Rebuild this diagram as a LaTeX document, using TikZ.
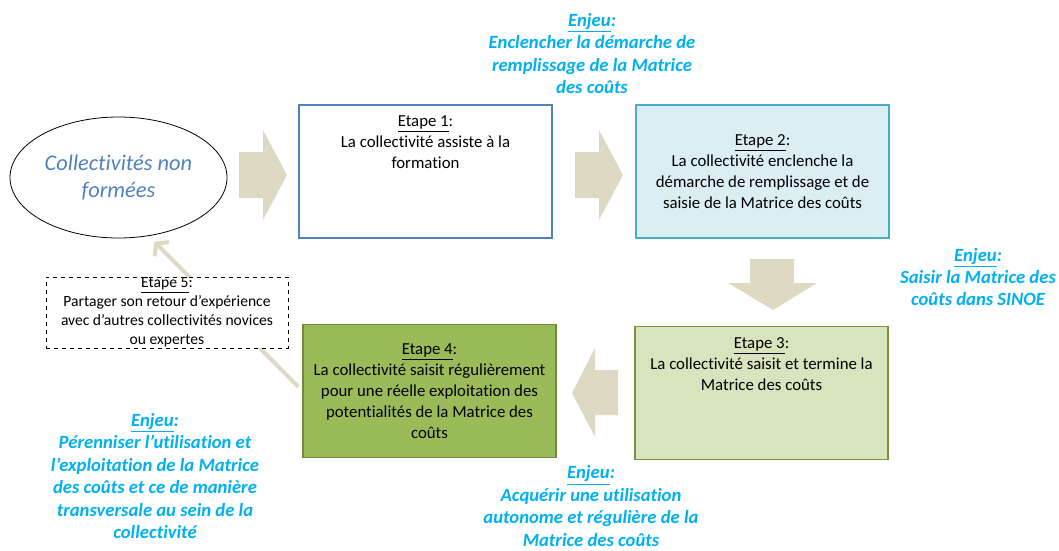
\documentclass[tikz,border=0pt]{standalone}
\usepackage{fontspec}
\setmainfont{Carlito}[Ligatures = {TeX, NoCommon}]
\usetikzlibrary{arrows.meta,shapes.geometric}
\definecolor{arrowbeige}{HTML}{DDD9C3}
\definecolor{enjeublue}{HTML}{00B0F0}
\definecolor{accentblue}{HTML}{4F81BD}
\definecolor{aquaedge}{HTML}{4BACC6}
\definecolor{aquafill}{HTML}{DBEEF4}
\definecolor{olivefill}{HTML}{D7E4BD}
\definecolor{oliveedge}{HTML}{77933C}
\definecolor{greenfill}{HTML}{9BBB59}
\definecolor{greenedge}{HTML}{71893F}
\newcommand{\etape}[1]{\underline{Etape #1}:}
\newcommand{\enjeu}{\underline{Enjeu}:}
\begin{document}
\begin{tikzpicture}[x = 0.75pt, y = -0.75pt,
  stepbox/.style = {draw, line width = 0.8pt, minimum width = 189.75pt, minimum height = 99.75pt,
    inner sep = 0pt, align = center, font = \fontsize{12.6}{15.8}\selectfont},
  steptext/.style = {align = center, inner sep = 0pt, font = \fontsize{12.6}{15.8}\selectfont},
  enjeutext/.style = {align = center, inner sep = 0pt, text = enjeublue,
    font = \fontsize{14}{16.8}\selectfont\bfseries\itshape},
  blockarrow/.style = {fill = arrowbeige},
  backarrow/.style = {draw = arrowbeige, line width = 3pt, -{Straight Barb[length = 6pt, width = 15pt]}}]
\useasboundingbox (0,0) rectangle (1059,550);
\node (coll) [draw, ellipse, line width = 0.6pt, minimum width = 162.75pt, minimum height = 90.75pt,
  inner sep = 0pt, align = center, text = accentblue, font = \fontsize{16.8}{20.25}\selectfont\itshape]
  at (118.5,177.5) {Collectivités non\\formées};
\node (s1) [stepbox, draw = accentblue, fill = white] at (425.5,171.5) {};
\node (s1txt) [steptext] at (425.5,142.5) {\etape{1}\\La collectivité assiste à la\\formation};
\node (s2) [stepbox, draw = aquaedge, fill = aquafill] at (762.5,171.5)
  {\etape{2}\\La collectivité enclenche la\\démarche de remplissage et de\\saisie de la Matrice des coûts};
\node (s3) [stepbox, draw = oliveedge, fill = olivefill] at (761.5,393) {};
\node (s3txt) [steptext] at (761.5,364) {\etape{3}\\La collectivité saisit et termine la\\Matrice des coûts};
\node (s4) [stepbox, draw = greenedge, fill = greenfill] at (429.5,391)
  {\etape{4}\\La collectivité saisit régulièrement\\pour une réelle exploitation des\\potentialités de la Matrice des\\coûts};
\fill [blockarrow] (239,152) -- (263,152) -- (263,130) -- (287,175) -- (263,220) -- (263,198) -- (239,198) -- cycle;
\fill [blockarrow] (575,152) -- (599,152) -- (599,130) -- (623,175) -- (599,220) -- (599,198) -- (575,198) -- cycle;
\fill [blockarrow] (750,259) -- (794,259) -- (794,283) -- (817,283) -- (773,310) -- (728,283) -- (750,283) -- cycle;
\fill [blockarrow] (618,370) -- (595,370) -- (595,348) -- (572,393) -- (595,437) -- (595,415) -- (618,415) -- cycle;
\draw [backarrow, shorten <= 4.5pt] (s4.west) -- ([yshift = -5pt]coll.302);
\node (s5) [draw, dashed, line width = 0.6pt, fill = white, minimum width = 181.5pt, minimum height = 53.25pt,
  inner sep = 0pt, align = center, font = \fontsize{11.7}{14.25}\selectfont] at (167,312.5)
  {\etape{5}\\Partager son retour d’expérience\\avec d’autres collectivités novices\\ou expertes};
\node (e1) [enjeutext] at (592,53.5) {\enjeu\\Enclencher la démarche de\\remplissage de la Matrice\\des coûts};
\node (e2) [enjeutext] at (978,277) {\enjeu\\Saisir la Matrice des\\coûts dans SINOE};
\node (e3) [enjeutext] at (591,506) {\enjeu\\Acquérir une utilisation\\autonome et régulière de la\\Matrice des coûts};
\node (e4) [enjeutext] at (155,476) {\enjeu\\Pérenniser l’utilisation et\\l’exploitation de la Matrice\\des coûts et ce de manière\\transversale au sein de la\\collectivité};
\end{tikzpicture}
\end{document}
